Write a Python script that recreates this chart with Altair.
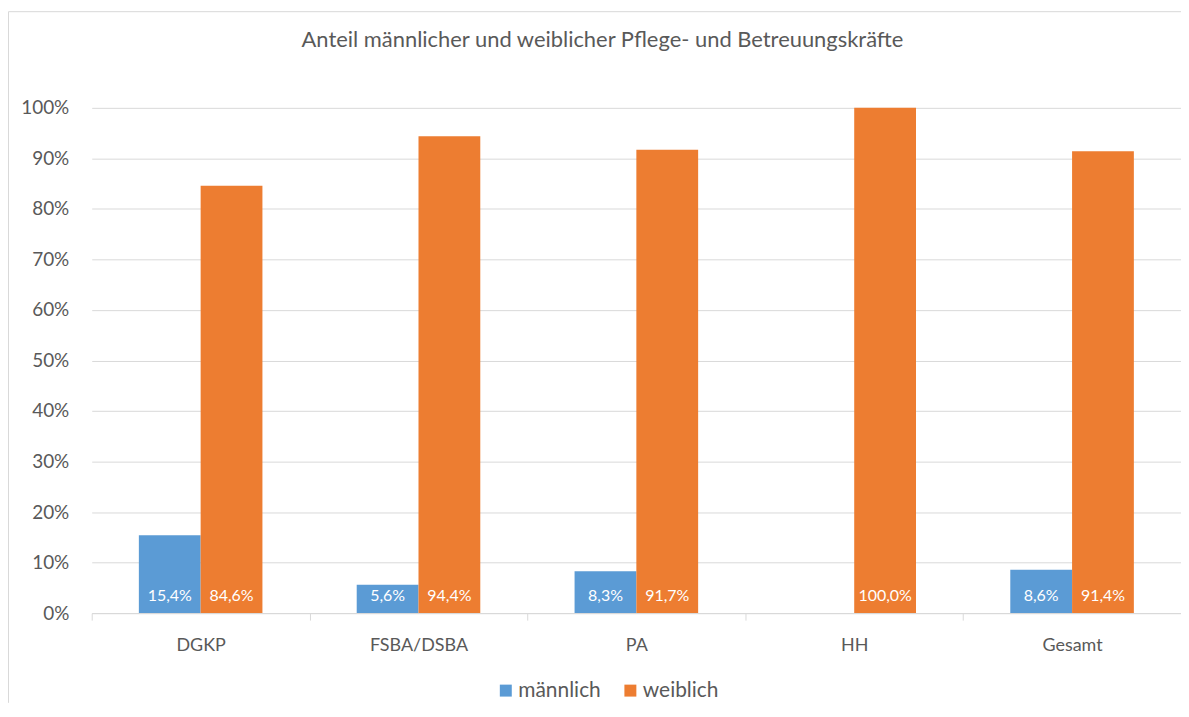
import altair as alt
import pandas as pd

# ---- data ----
categories = ["DGKP", "FSBA/DSBA", "PA", "HH", "Gesamt"]
series = ["männlich", "weiblich"]
maennlich = [15.4, 5.6, 8.3, 0.0, 8.6]
weiblich = [84.6, 94.4, 91.7, 100.0, 91.4]
colors = ["#5B9BD5", "#ED7D31"]
y_ticks = [0, 10, 20, 30, 40, 50, 60, 70, 80, 90, 100]
title_text = "Anteil männlicher und weiblicher Pflege- und Betreuungskräfte"

rows = []
for c, m, w in zip(categories, maennlich, weiblich):
    rows.append({"cat": c, "series": series[0], "value": m})
    rows.append({"cat": c, "series": series[1], "value": w})
df = pd.DataFrame(rows)

W, H = 1093, 507
PAD = {"left": 84, "top": 99, "right": 0, "bottom": 90}
FONT = "Lato"
GREY = "#595959"
GRID = "#D9D9D9"

x_enc = alt.X(
    "cat:N", sort=categories,
    scale=alt.Scale(paddingInner=0, paddingOuter=0),
    axis=alt.Axis(title=None, labelAngle=0, labelFont=FONT, labelFontSize=18,
                  labelColor=GREY, labelBaseline="alphabetic", labelPadding=31,
                  tickSize=7, tickColor=GRID, tickWidth=1, tickBand="extent",
                  domainColor=GRID, domainWidth=1, grid=False),
)
xo_enc = alt.XOffset("series:N", sort=series,
                     scale=alt.Scale(paddingInner=0, paddingOuter=0.763))
y_enc = alt.Y(
    "value:Q",
    scale=alt.Scale(domain=[0, 100], nice=False),
    axis=alt.Axis(title=None, values=y_ticks, labelExpr="datum.value + '%'",
                  ticks=False, tickSize=0, domain=False, labelPadding=23,
                  labelFont=FONT, labelFontSize=19, labelColor=GREY,
                  gridColor=GRID, gridWidth=1),
)

base = alt.Chart(df)

bars = base.mark_bar().encode(
    x=x_enc, xOffset=xo_enc, y=y_enc,
    color=alt.Color("series:N", sort=series,
                    scale=alt.Scale(domain=series, range=colors),
                    legend=alt.Legend(title=None, orient="none", legendX=405,
                                      legendY=574, direction="horizontal",
                                      symbolType="square", symbolSize=144,
                                      symbolStrokeWidth=0, labelFont=FONT,
                                      labelFontSize=21, labelColor=GREY,
                                      labelOffset=2, columnPadding=19,
                                      padding=0)),
)

labels = base.transform_filter("datum.value > 0").transform_calculate(
    lbl="replace(format(datum.value, '.1f'), '.', ',') + '%'",
    zero="0",
).mark_text(baseline="alphabetic", align="center", dy=-12, color="white",
            font=FONT, fontSize=16).encode(
    x=alt.X("cat:N", sort=categories),
    xOffset=alt.XOffset("series:N", sort=series),
    y=alt.Y("zero:Q"),
    text="lbl:N",
)

one = pd.DataFrame({"t": [title_text]})
title = alt.Chart(one).mark_text(baseline="alphabetic", align="center",
                                 font=FONT, fontSize=22, color=GREY).encode(
    text="t:N", x=alt.value(512.5), y=alt.value(-61))

# chart-area frame (left and top edges visible in the reference)
left_edge = alt.Chart(one).mark_rule(stroke=GRID, strokeWidth=1, clip=False).encode(
    x=alt.value(-83.5), y=alt.value(-96.5), y2=alt.value(H + PAD["bottom"]))
top_edge = alt.Chart(one).mark_rule(stroke=GRID, strokeWidth=1, clip=False).encode(
    x=alt.value(-83.5), x2=alt.value(W + PAD["right"]), y=alt.value(-96.5))

chart = alt.layer(left_edge, top_edge, bars, labels, title).properties(
    width=W, height=H,
    padding=PAD,
    autosize="none",
).configure_view(strokeWidth=0)

chart.save("out.html", embed_options={"renderer": "svg", "actions": False})
